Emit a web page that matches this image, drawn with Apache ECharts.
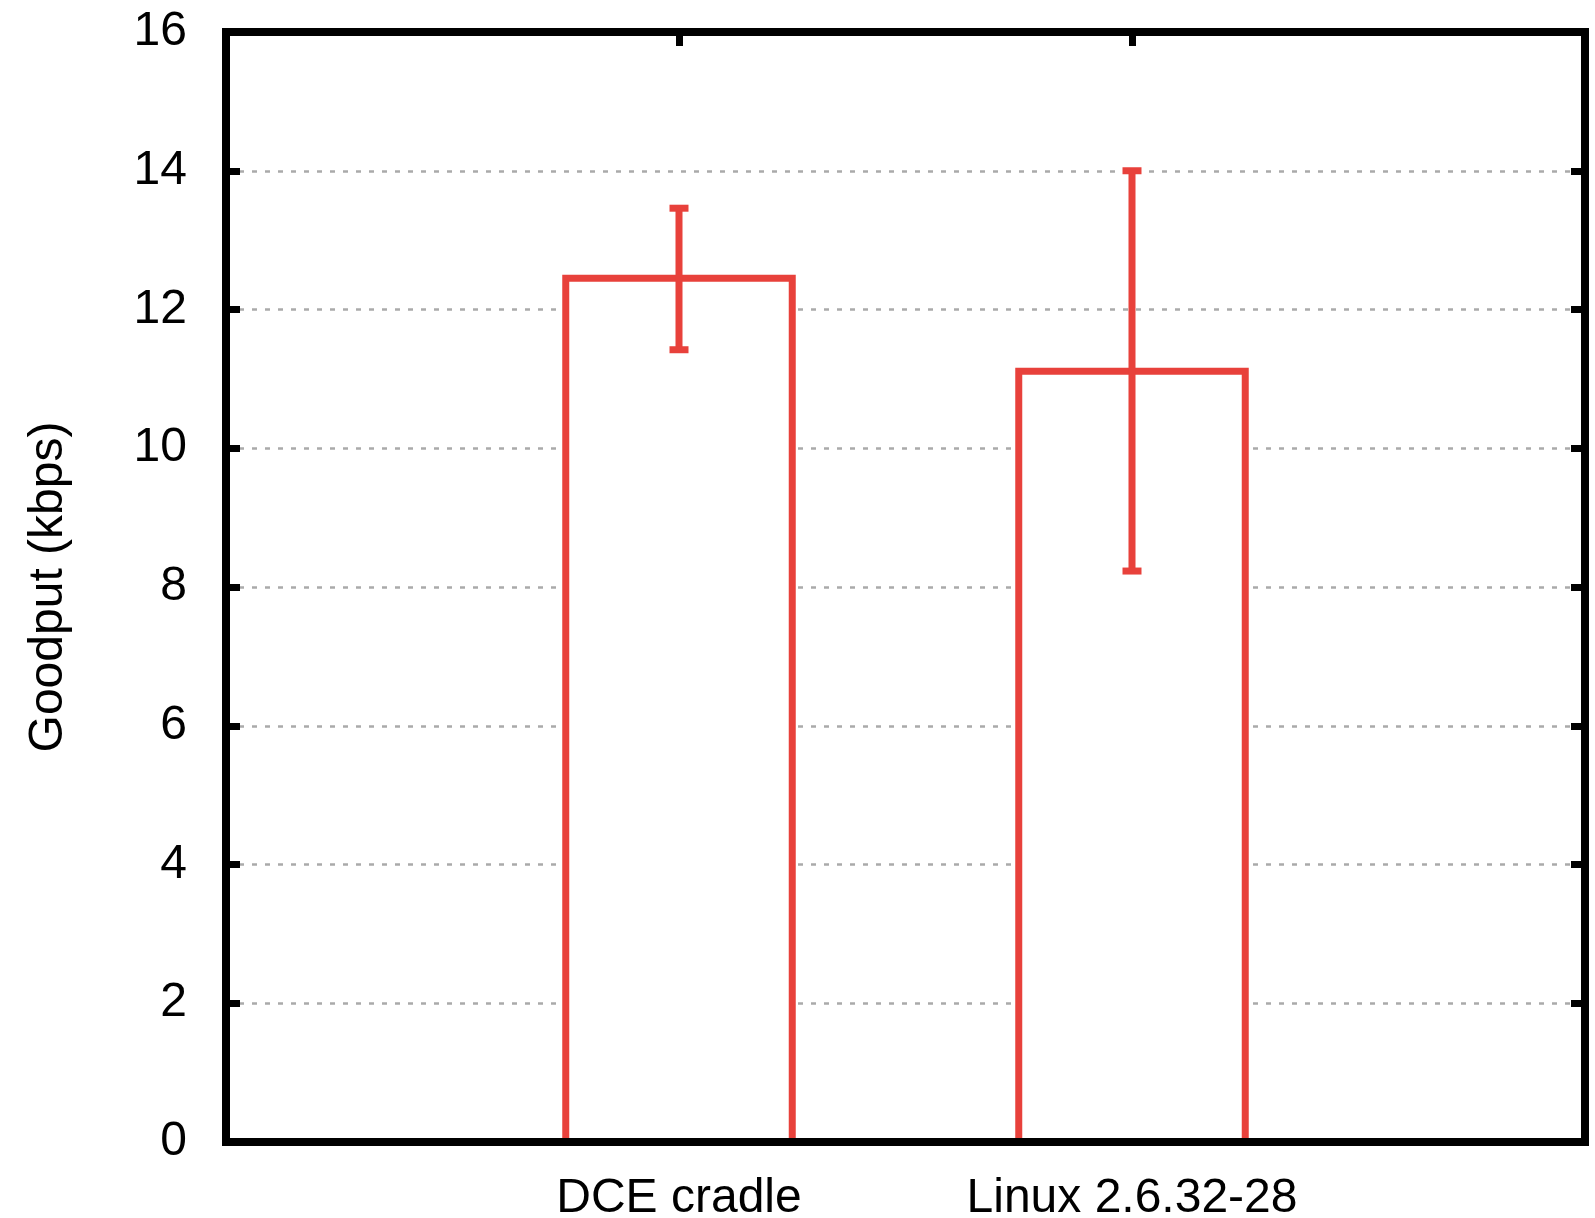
<!DOCTYPE html>
<html>
<head>
<meta charset="utf-8">
<script src="https://cdn.jsdelivr.net/npm/echarts@6/dist/echarts.min.js"></script>
<style>
html,body{margin:0;padding:0;background:#fff;}
#chart{width:1595px;height:1218px;}
</style>
</head>
<body>
<div id="chart"></div>
<script>
const categories = ['DCE cradle', 'Linux 2.6.32-28'];
const goodput = [12.45, 11.11];
const errLow = [11.42, 8.23];
const errHigh = [13.46, 14.0];
const yTicks = [0, 2, 4, 6, 8, 10, 12, 14, 16];

const RED = '#e8413b';
const FONT = 'Liberation Sans';

const barData = categories.map((c, i) => [i, goodput[i]]);
const errData = categories.map((c, i) => [i, errLow[i], errHigh[i]]);

const chart = echarts.init(document.getElementById('chart'), null, {renderer: 'canvas'});

const frameLine = {show: true, onZero: false, lineStyle: {color: '#000', width: 8, cap: 'square'}};

const option = {
  animation: false,
  backgroundColor: '#fff',
  grid: {left: 226, right: 10, top: 32, bottom: 76, containLabel: false, outerBoundsMode: 'none'},
  xAxis: [
    {
      type: 'value', position: 'bottom', min: -1, max: 2, interval: 1, z: 10,
      axisLine: frameLine,
      axisTick: {show: false},
      splitLine: {show: false},
      axisLabel: {
        show: true, margin: 33, fontSize: 48, fontFamily: FONT, color: '#000',
        formatter: v => (categories[Math.round(v)] !== undefined && Math.abs(v - Math.round(v)) < 1e-9) ? categories[Math.round(v)] : ''
      }
    },
    {
      type: 'value', position: 'top', min: -1, max: 2, interval: 1, z: 10,
      axisLine: frameLine,
      axisTick: {show: true, inside: true, length: 14, lineStyle: {color: '#000', width: 7}},
      splitLine: {show: false},
      axisLabel: {show: false}
    }
  ],
  yAxis: [
    {
      type: 'value', position: 'left', min: yTicks[0], max: yTicks[yTicks.length - 1], interval: 2, z: 0,
      axisLine: {show: false, onZero: false},
      axisTick: {show: false},
      axisLabel: {show: true, margin: 39, fontSize: 48, fontFamily: FONT, color: '#000'},
      splitLine: {show: true, lineStyle: {color: '#aaaaaa', width: 2.5, type: [5, 8]}},
      name: 'Goodput (kbps)',
      nameLocation: 'middle',
      nameGap: 153,
      nameRotate: 90,
      nameTextStyle: {fontSize: 48, fontFamily: FONT, color: '#000'}
    },
    {
      type: 'value', position: 'left', min: 0, max: 16, interval: 2, z: 10,
      axisLine: frameLine,
      axisTick: {show: true, inside: true, length: 14, lineStyle: {color: '#000', width: 7}},
      axisLabel: {show: false},
      splitLine: {show: false}
    },
    {
      type: 'value', position: 'right', min: 0, max: 16, interval: 2, z: 10,
      axisLine: frameLine,
      axisTick: {show: true, inside: true, length: 14, lineStyle: {color: '#000', width: 7}},
      axisLabel: {show: false},
      splitLine: {show: false}
    }
  ],
  series: [
    {
      type: 'custom',
      xAxisIndex: 0, yAxisIndex: 0, z: 2,
      data: barData,
      renderItem: function (params, api) {
        const x = api.value(0), y = api.value(1);
        const p0 = api.coord([x - 0.25, 0]);
        const p1 = api.coord([x + 0.25, y]);
        return {
          type: 'rect',
          shape: {x: p0[0], y: p1[1], width: p1[0] - p0[0], height: p0[1] - p1[1]},
          style: {fill: '#fff', stroke: RED, lineWidth: 7}
        };
      }
    },
    {
      type: 'custom',
      xAxisIndex: 0, yAxisIndex: 0, z: 3,
      data: errData,
      renderItem: function (params, api) {
        const x = api.value(0);
        const lo = api.coord([x, api.value(1)]);
        const hi = api.coord([x, api.value(2)]);
        const hw = 9.5;
        const st = {stroke: RED, lineWidth: 7};
        return {
          type: 'group',
          children: [
            {type: 'line', shape: {x1: lo[0], y1: lo[1], x2: hi[0], y2: hi[1]}, style: st},
            {type: 'line', shape: {x1: lo[0] - hw, y1: lo[1], x2: lo[0] + hw, y2: lo[1]}, style: st},
            {type: 'line', shape: {x1: hi[0] - hw, y1: hi[1], x2: hi[0] + hw, y2: hi[1]}, style: st}
          ]
        };
      }
    }
  ]
};

chart.setOption(option);
</script>
</body>
</html>
